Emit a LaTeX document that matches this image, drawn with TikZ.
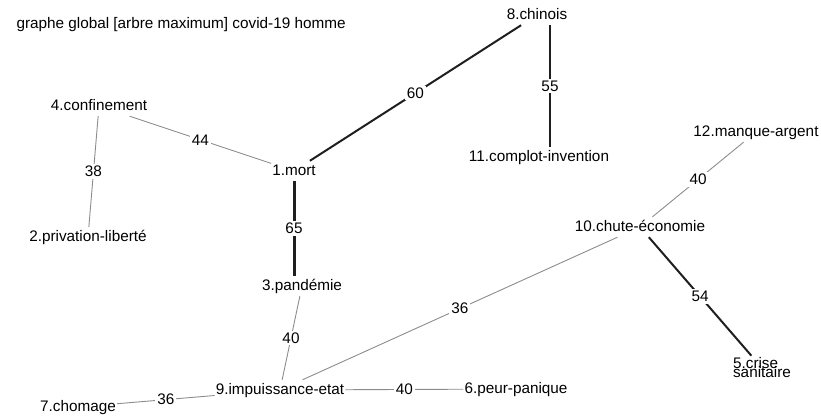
\documentclass[tikz,border=0pt]{standalone}
\usepackage{fontspec}
\setmainfont{Liberation Sans}
\definecolor{weakedge}{gray}{0.55}
\definecolor{strongedge}{gray}{0.12}

\begin{document}
\begin{tikzpicture}[
  x=1pt, y=-1pt,
  font=\fontsize{15.3}{16}\selectfont,
  vertex/.style={inner xsep=1pt, inner ysep=3pt, text height=11pt, text depth=3pt},
  twoline/.style={inner xsep=1pt, inner ysep=2pt, align=left},
  wlabel/.style={fill=white, inner sep=2pt},
  weak/.style={draw=weakedge, line width=0.9pt},
  strong/.style={draw=strongedge, line width=2pt},
  strongest/.style={draw=strongedge, line width=3pt}
]
\useasboundingbox (0,0) rectangle (821,416);

% Title
\node[anchor=west] (title) at (13,25) {graphe global [arbre maximum] covid-19 homme};

% Vertices
\node[vertex] (mort) at (294,171) {1.mort};
\node[vertex] (privation) at (88,237) {2.privation-libert\'e};
\node[vertex] (pandemie) at (302,286) {3.pand\'emie};
\node[vertex] (confinement) at (99,106) {4.confinement};
\node[twoline] (crise) at (762,368) {5.crise\\[-7pt]sanitaire};
\node[vertex] (peur) at (516,389) {6.peur-panique};
\node[vertex] (chomage) at (78,407) {7.chomage};
\node[vertex] (chinois) at (537,15) {8.chinois};
\node[vertex] (impuissance) at (280,390) {9.impuissance-etat};
\node[vertex] (chute) at (640,227) {10.chute-\'economie};
\node[vertex] (complot) at (539,157) {11.complot-invention};
\node[vertex] (manque) at (756,132) {12.manque-argent};

% Strong links
\draw[strongest] (mort.south) -- (mort.south |- pandemie.north) node[midway, wlabel] {65};
\draw[strong] (mort) -- (chinois) node[midway, wlabel] {60};
\draw[strong] ([xshift=13pt]chinois.south) -- ([xshift=11pt]complot.north) node[midway, wlabel] {55};
\draw[strong] (chute) -- (crise) node[midway, wlabel] {54};

% Weak links
\draw[weak] (confinement) -- (mort) node[midway, wlabel] {44};
\draw[weak] (confinement) -- (privation) node[midway, wlabel] {38};
\draw[weak] (pandemie) -- (impuissance) node[midway, wlabel] {40};
\draw[weak] (chomage) -- (impuissance) node[midway, wlabel] {36};
\draw[weak] (impuissance) -- (peur) node[midway, wlabel] {40};
\draw[weak] (impuissance) -- (chute) node[midway, wlabel] {36};
\draw[weak] (chute) -- (manque) node[midway, wlabel] {40};
\end{tikzpicture}
\end{document}
